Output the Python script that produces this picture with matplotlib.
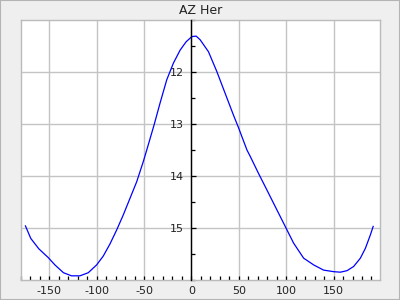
import numpy as np
import matplotlib
matplotlib.use("Agg")
import matplotlib.pyplot as plt
from matplotlib.ticker import MultipleLocator
from matplotlib.patches import Rectangle

# light curve of AZ Her, phase (deg) vs magnitude
phase = [-175.1, -169.5, -161.0, -151.0, -144.0, -135.0, -126.5, -117.6, -108.8,
         -100.0, -93.0, -86.0, -78.9, -71.9, -64.8, -57.7, -50.7, -47.1, -39.4,
         -33.1, -26.0, -19.0, -11.9, -5.6, 0.4, 5.0, 9.2, 18.0, 26.8, 35.6, 44.4,
         49.7, 58.6, 62.0, 70.8, 79.7, 88.5, 99.0, 107.8, 118.4, 129.0, 139.5,
         150.1, 157.2, 164.3, 171.2, 178.3, 183.6, 188.9, 191.8]
mag = [14.96, 15.20, 15.40, 15.57, 15.71, 15.86, 15.92, 15.92, 15.86,
       15.71, 15.54, 15.31, 15.04, 14.75, 14.43, 14.11, 13.72, 13.50, 13.02,
       12.60, 12.15, 11.83, 11.58, 11.42, 11.32, 11.31, 11.38, 11.61, 11.99, 12.41, 12.83,
       13.07, 13.50, 13.62, 13.95, 14.27, 14.59, 14.97, 15.29, 15.58, 15.71, 15.81,
       15.84, 15.85, 15.82, 15.74, 15.58, 15.39, 15.13, 14.97]

plt.rcParams['axes.unicode_minus'] = False
plt.rcParams['font.family'] = 'DejaVu Sans'

fig = plt.figure(figsize=(4, 3), dpi=100, facecolor='#efefef')
fig.patches.append(Rectangle((0, 0), 1, 1, transform=fig.transFigure,
                             fill=False, edgecolor='#b4b4b4', lw=1.5))
ax = fig.add_axes([0.052, 0.0667, 0.898, 0.8667])
ax.set_facecolor('white')

ax.plot(phase, mag, color='#0000ff', lw=0.9)

ax.set_xlim(-180, 199)
ax.set_ylim(16, 11)

ax.xaxis.set_major_locator(MultipleLocator(50))
ax.xaxis.set_minor_locator(MultipleLocator(10))
ax.yaxis.set_major_locator(MultipleLocator(1))
ax.yaxis.set_minor_locator(MultipleLocator(0.5))
ax.set_yticks([12, 13, 14, 15])

ax.grid(True, which='major', color='#c4c4c4', lw=1.0)
ax.set_axisbelow(True)

for s in ['top', 'right', 'bottom']:
    ax.spines[s].set_color('#bbbbbb')
    ax.spines[s].set_linewidth(1.0)
ax.spines['left'].set_position(('data', 0))
ax.spines['left'].set_color('black')
ax.spines['left'].set_linewidth(1.0)
ax.spines['left'].set_zorder(3)
# left frame edge drawn separately since left spine is moved to x=0
ax.plot([0, 0], [0, 1], transform=ax.transAxes, color='#bbbbbb', lw=1.0, clip_on=False)

ax.tick_params(axis='x', which='both', direction='in', length=3, width=0.9,
               color='black', labelsize=8, pad=4, labelcolor='#222222')
ax.tick_params(axis='y', which='major', direction='in', length=3.6, width=0.9,
               color='black', labelsize=8, pad=5.5, labelcolor='#222222')
ax.tick_params(axis='y', which='minor', direction='in', length=2.9, width=0.9,
               color='black')

ax.set_title('AZ Her', fontsize=9, color='#222222', pad=4)

fig.savefig('out.png', dpi=100, facecolor=fig.get_facecolor())
